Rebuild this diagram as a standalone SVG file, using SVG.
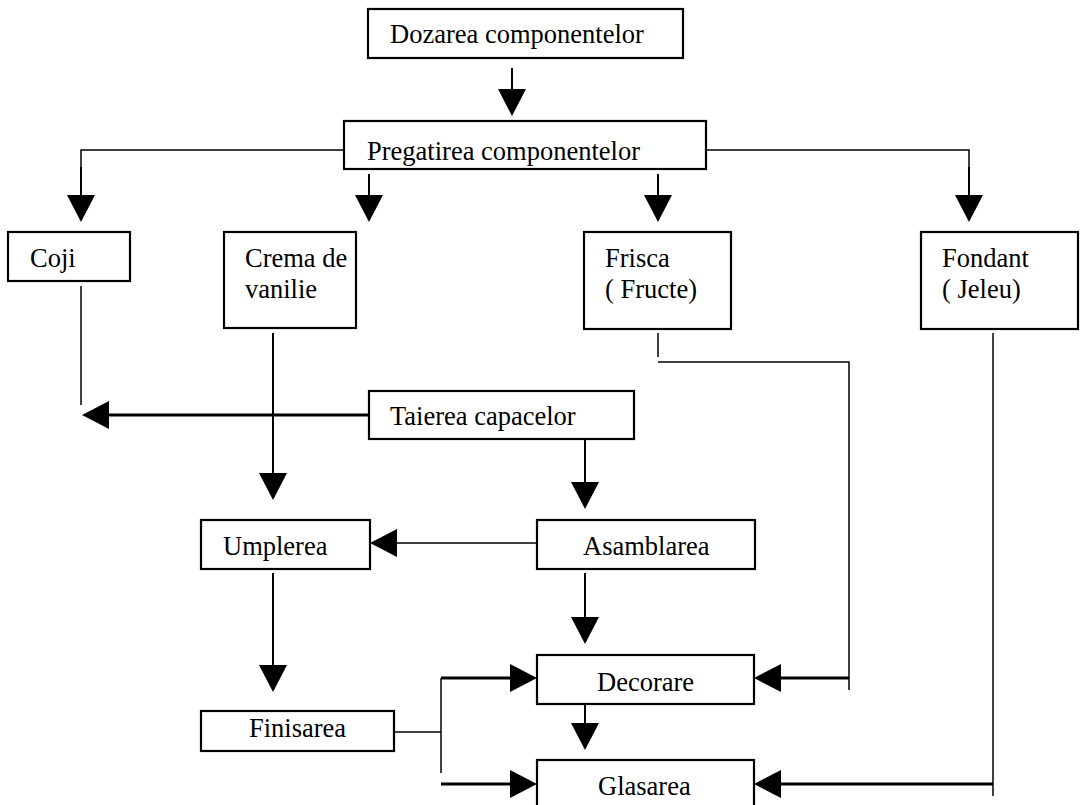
<svg xmlns="http://www.w3.org/2000/svg" width="1080" height="805" viewBox="0 0 1080 805">
  <style>
    .box { fill: #fff; stroke: #000; stroke-width: 2.2; }
    .lbl { font-family: "Liberation Serif", "Times New Roman", serif; font-size: 26.5px; fill: #000; }
    .thin { fill: none; stroke: #000; stroke-width: 1.5; }
    .mid { fill: none; stroke: #000; stroke-width: 2; }
    .thick { fill: none; stroke: #000; stroke-width: 3; }
    .arr { marker-end: url(#head); }
  </style>
  <defs>
    <marker id="head" markerUnits="userSpaceOnUse" markerWidth="28" markerHeight="28" refX="0" refY="14" orient="auto" overflow="visible">
      <path d="M0,0 L27,14 L0,28 Z" fill="#000"/>
    </marker>
  </defs>
  <rect width="1080" height="805" fill="#fff"/>

  <!-- connectors -->
  <g id="connectors">
    <line class="mid arr" x1="512" y1="68" x2="512" y2="89"/>
    <polyline class="thin" points="344,150 81,150 81,168"/>
    <line class="mid arr" x1="81" y1="167" x2="81" y2="195"/>
    <line class="mid arr" x1="369" y1="174" x2="369" y2="195"/>
    <line class="mid arr" x1="658" y1="174" x2="658" y2="195"/>
    <polyline class="thin" points="706,150 969,150 969,168"/>
    <line class="mid arr" x1="969" y1="167" x2="969" y2="195"/>

    <line class="thin" x1="81" y1="286" x2="81" y2="405"/>
    <line class="thick arr" x1="369" y1="415" x2="109" y2="415"/>

    <line class="mid arr" x1="273" y1="333" x2="273" y2="473"/>
    <line class="mid arr" x1="585" y1="439" x2="585" y2="482"/>
    <line class="thin arr" x1="537" y1="543" x2="397" y2="543"/>

    <line class="mid arr" x1="273" y1="573" x2="273" y2="665"/>
    <line class="mid arr" x1="585" y1="573" x2="585" y2="617"/>
    <line class="mid arr" x1="585" y1="704" x2="585" y2="723"/>

    <line class="thin" x1="394" y1="732" x2="441" y2="732"/>
    <line class="thin" x1="441" y1="678" x2="441" y2="773"/>
    <line class="thick arr" x1="441" y1="678" x2="510" y2="678"/>
    <line class="thick arr" x1="441" y1="784" x2="510" y2="784"/>

    <line class="thin" x1="658" y1="333" x2="658" y2="357"/>
    <polyline class="thin" points="658,362 849,362 849,690"/>
    <line class="thick arr" x1="849" y1="678" x2="781" y2="678"/>

    <line class="thin" x1="993" y1="333" x2="993" y2="796"/>
    <line class="thick arr" x1="993" y1="784" x2="781" y2="784"/>
  </g>

  <g id="dozarea">
    <rect class="box" x="368" y="9" width="315" height="49"/>
    <text class="lbl" x="390" y="43">Dozarea componentelor</text>
  </g>
  <g id="pregatirea">
    <rect class="box" x="344" y="121" width="362" height="48"/>
    <text class="lbl" x="367" y="160">Pregatirea componentelor</text>
  </g>
  <g id="coji">
    <rect class="box" x="8" y="232" width="122" height="49"/>
    <text class="lbl" x="30" y="267">Coji</text>
  </g>
  <g id="crema">
    <rect class="box" x="224" y="232" width="132" height="96"/>
    <text class="lbl" x="245" y="267">Crema de</text>
    <text class="lbl" x="245" y="298">vanilie</text>
  </g>
  <g id="frisca">
    <rect class="box" x="584" y="232" width="147" height="97"/>
    <text class="lbl" x="605" y="267">Frisca</text>
    <text class="lbl" x="605" y="298">( Fructe)</text>
  </g>
  <g id="fondant">
    <rect class="box" x="921" y="232" width="157" height="97"/>
    <text class="lbl" x="942" y="267">Fondant</text>
    <text class="lbl" x="942" y="298">( Jeleu)</text>
  </g>
  <g id="taierea">
    <rect class="box" x="369" y="391" width="265" height="48"/>
    <text class="lbl" x="390" y="425">Taierea capacelor</text>
  </g>
  <g id="umplerea">
    <rect class="box" x="201" y="520" width="169" height="49"/>
    <text class="lbl" x="223" y="555">Umplerea</text>
  </g>
  <g id="asamblarea">
    <rect class="box" x="537" y="520" width="218" height="49"/>
    <text class="lbl" x="583" y="555">Asamblarea</text>
  </g>
  <g id="decorare">
    <rect class="box" x="537" y="655" width="217" height="49"/>
    <text class="lbl" x="597" y="691">Decorare</text>
  </g>
  <g id="finisarea">
    <rect class="box" x="201" y="711" width="193" height="40"/>
    <text class="lbl" x="249" y="737">Finisarea</text>
  </g>
  <g id="glasarea">
    <rect class="box" x="537" y="760" width="217" height="60"/>
    <text class="lbl" x="598" y="795">Glasarea</text>
  </g>
</svg>
